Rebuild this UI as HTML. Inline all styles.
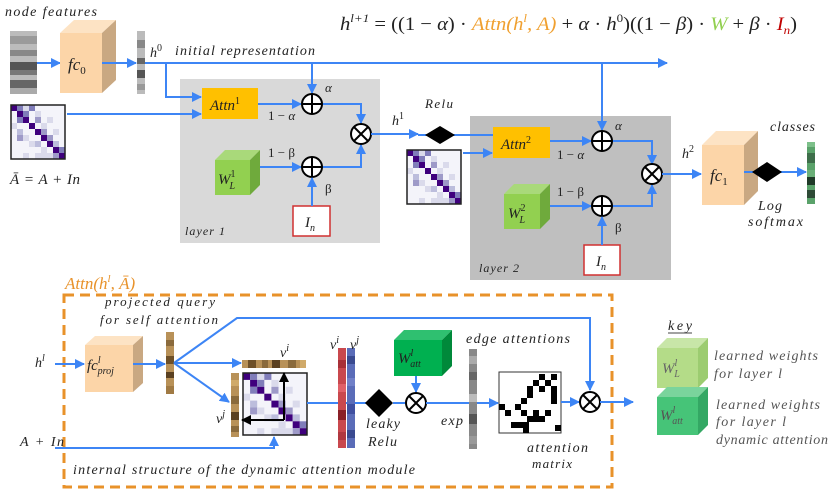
<!DOCTYPE html>
<html><head><meta charset="utf-8"><style>
html,body{margin:0;padding:0;background:#fff;}
svg{display:block;}
text{font-family:"Liberation Serif",serif;font-style:italic;fill:#222;}
.u{font-style:normal;}
</style></head><body>
<svg width="831" height="490" viewBox="0 0 831 490" xmlns="http://www.w3.org/2000/svg">
<defs>
<marker id="a" markerWidth="10" markerHeight="10" refX="9" refY="5" orient="auto" markerUnits="userSpaceOnUse"><path d="M0,0 L10,5 L0,10 z" fill="#3d85f5"/></marker>
<marker id="k" markerWidth="10" markerHeight="10" refX="9" refY="5" orient="auto" markerUnits="userSpaceOnUse"><path d="M0,0 L10,5 L0,10 z" fill="#000"/></marker>
<g id="adj">
<rect x="0" y="0" width="9" height="9" fill="#f4f4fa"/>
<rect x="0" y="0" width="1" height="1" fill="#3f007d"/><rect x="1" y="0" width="1" height="1" fill="#807dba"/><rect x="2" y="0" width="1" height="1" fill="#dadaeb"/><rect x="3" y="0" width="1" height="1" fill="#807dba"/>
<rect x="1" y="1" width="1" height="1" fill="#3f007d"/><rect x="2" y="1" width="1" height="1" fill="#807dba"/><rect x="4" y="1" width="1" height="1" fill="#dadaeb"/>
<rect x="1" y="2" width="1" height="1" fill="#807dba"/><rect x="2" y="2" width="1" height="1" fill="#3f007d"/><rect x="4" y="2" width="1" height="1" fill="#9e9ac8"/><rect x="6" y="2" width="1" height="1" fill="#dadaeb"/>
<rect x="0" y="3" width="1" height="1" fill="#dadaeb"/><rect x="3" y="3" width="1" height="1" fill="#3f007d"/><rect x="5" y="3" width="1" height="1" fill="#dadaeb"/>
<rect x="1" y="4" width="1" height="1" fill="#bcbddc"/><rect x="4" y="4" width="1" height="1" fill="#3f007d"/><rect x="5" y="4" width="1" height="1" fill="#9e9ac8"/><rect x="7" y="4" width="1" height="1" fill="#dadaeb"/>
<rect x="1" y="5" width="1" height="1" fill="#9e9ac8"/><rect x="2" y="5" width="1" height="1" fill="#dadaeb"/><rect x="5" y="5" width="1" height="1" fill="#3f007d"/><rect x="6" y="5" width="1" height="1" fill="#9e9ac8"/>
<rect x="3" y="6" width="1" height="1" fill="#dadaeb"/><rect x="4" y="6" width="1" height="1" fill="#bcbddc"/><rect x="6" y="6" width="1" height="1" fill="#3f007d"/><rect x="7" y="6" width="1" height="1" fill="#bcbddc"/>
<rect x="5" y="7" width="1" height="1" fill="#dadaeb"/><rect x="7" y="7" width="1" height="1" fill="#3f007d"/><rect x="8" y="7" width="1" height="1" fill="#807dba"/>
<rect x="2" y="8" width="1" height="1" fill="#dadaeb"/><rect x="4" y="8" width="3" height="1" fill="#dadaeb"/><rect x="7" y="8" width="1" height="1" fill="#9e9ac8"/><rect x="8" y="8" width="1" height="1" fill="#3f007d"/>
</g>
<g id="plus"><circle r="10" fill="#fff" stroke="#000" stroke-width="2"/><path d="M-10,0H10M0,-10V10" stroke="#000" stroke-width="2"/></g>
<g id="times"><circle r="10" fill="#fff" stroke="#000" stroke-width="2"/><path d="M-7,-7L7,7M-7,7L7,-7" stroke="#000" stroke-width="2"/></g>
</defs>

<!-- formula -->
<text x="340" y="30" font-size="19" textLength="457" lengthAdjust="spacingAndGlyphs">h<tspan font-size="12" dy="-8">l+1</tspan><tspan dy="8" class="u"> = ((1 − </tspan>α<tspan class="u">) · </tspan><tspan style="fill:#f0a030">Attn(h</tspan><tspan style="fill:#f0a030" font-size="12" dy="-8">l</tspan><tspan style="fill:#f0a030" dy="8">, A)</tspan><tspan class="u"> + </tspan>α<tspan class="u"> · </tspan>h<tspan font-size="12" dy="-8" class="u">0</tspan><tspan dy="8" class="u">)((1 − </tspan>β<tspan class="u">) · </tspan><tspan style="fill:#92d050">W</tspan><tspan class="u"> + </tspan>β<tspan class="u"> · </tspan><tspan style="fill:#c00000">I</tspan><tspan style="fill:#c00000" font-size="12" dy="4">n</tspan><tspan dy="-4" class="u">)</tspan></text>

<!-- node features -->
<text x="5" y="16" font-size="14" textLength="92">node features</text>
<g>
<rect x="10" y="31" width="27" height="63" fill="#bbb"/>
<rect x="10" y="36" width="27" height="8" fill="#9a9a9a"/><rect x="10" y="50" width="27" height="6" fill="#888"/>
<rect x="10" y="62" width="27" height="8" fill="#555"/><rect x="10" y="70" width="27" height="5" fill="#777"/>
<rect x="10" y="80" width="27" height="8" fill="#666"/><rect x="10" y="88" width="27" height="6" fill="#aaa"/>
</g>
<line x1="37" y1="63" x2="60" y2="63" stroke="#3d85f5" stroke-width="2" marker-end="url(#a)"/>
<polygon points="60,33 74,20 116,20 102,33" fill="#fde3c4"/>
<polygon points="102,33 116,20 116,80 102,93" fill="#c9a882"/>
<rect x="60" y="33" width="42" height="60" fill="#fcd5a8"/>
<text x="68" y="70" font-size="17">fc<tspan font-size="11" dy="4" class="u">0</tspan></text>
<line x1="102" y1="63" x2="136" y2="63" stroke="#3d85f5" stroke-width="2" marker-end="url(#a)"/>
<g>
<rect x="137" y="31" width="8" height="63" fill="#bbb"/>
<rect x="137" y="40" width="8" height="8" fill="#888"/><rect x="137" y="58" width="8" height="6" fill="#666"/><rect x="137" y="70" width="8" height="8" fill="#555"/><rect x="137" y="84" width="8" height="6" fill="#999"/>
</g>
<text x="150" y="57" font-size="14">h<tspan font-size="10" dy="-6" class="u">0</tspan></text>
<text x="175" y="55" font-size="14" textLength="140">initial representation</text>
<line x1="145" y1="63" x2="667" y2="63" stroke="#3d85f5" stroke-width="2" marker-end="url(#a)"/>

<use href="#adj" transform="translate(11,105) scale(6)"/>
<rect x="11" y="105" width="54" height="54" fill="none" stroke="#222" stroke-width="1.5"/>
<text x="10" y="184" font-size="15" textLength="70">Ā = A + In</text>

<!-- layer 1 -->
<rect x="180" y="79" width="200" height="164" fill="#d9d9d9"/>
<polyline points="166,63 166,97 201,97" fill="none" stroke="#3d85f5" stroke-width="2" marker-end="url(#a)"/>
<line x1="67" y1="114" x2="201" y2="114" stroke="#3d85f5" stroke-width="2" marker-end="url(#a)"/>
<rect x="202" y="88" width="56" height="31" fill="#ffc000"/>
<text x="210" y="110" font-size="15">Attn<tspan font-size="10" dy="-6" class="u">1</tspan></text>
<line x1="312" y1="63" x2="312" y2="93" stroke="#3d85f5" stroke-width="2" marker-end="url(#a)"/>
<line x1="258" y1="104" x2="301" y2="104" stroke="#3d85f5" stroke-width="2" marker-end="url(#a)"/>
<polyline points="322,104 361,104 361,123" fill="none" stroke="#3d85f5" stroke-width="2" marker-end="url(#a)"/>
<use href="#plus" x="312" y="104"/>
<text x="325" y="92" font-size="13">α</text>
<text x="268" y="120" font-size="13" class="u">1 − <tspan font-style="italic">α</tspan></text>
<polygon points="215,160 225,150 260,150 250,160" fill="#a9d97a"/>
<polygon points="250,160 260,150 260,185 250,195" fill="#6faa3c"/>
<rect x="215" y="160" width="35" height="35" fill="#92d050"/>
<text x="218" y="184" font-size="15">W<tspan font-size="10" dy="-7" class="u">1</tspan><tspan font-size="10" dx="-6" dy="12">L</tspan></text>
<line x1="260" y1="167" x2="301" y2="167" stroke="#3d85f5" stroke-width="2" marker-end="url(#a)"/>
<polyline points="322,167 361,167 361,145" fill="none" stroke="#3d85f5" stroke-width="2" marker-end="url(#a)"/>
<use href="#plus" x="312" y="167"/>
<text x="268" y="157" font-size="13" class="u">1 − β</text>
<text x="325" y="193" font-size="13" class="u">β</text>
<rect x="293" y="206" width="37" height="30" fill="#fff" stroke="#d03030" stroke-width="1.5"/>
<line x1="312" y1="206" x2="312" y2="178" stroke="#3d85f5" stroke-width="2" marker-end="url(#a)"/>
<text x="305" y="227" font-size="15">I<tspan font-size="10" dy="4">n</tspan></text>
<text x="185" y="235" font-size="12" textLength="40">layer 1</text>
<use href="#times" x="361" y="134"/>
<line x1="371" y1="134" x2="418" y2="134" stroke="#3d85f5" stroke-width="2" marker-end="url(#a)"/>
<text x="392" y="125" font-size="14">h<tspan font-size="10" dy="-6" class="u">1</tspan></text>

<!-- layer 2 -->
<text x="425" y="108" font-size="13" textLength="28">Relu</text>
<rect x="470" y="116" width="201" height="164" fill="#bfbfbf"/>
<line x1="418" y1="135" x2="493" y2="135" stroke="#3d85f5" stroke-width="2"/>
<polygon points="425,135 440,126 455,135 440,144" fill="#000"/>
<use href="#adj" transform="translate(407,150) scale(6)"/>
<rect x="407" y="150" width="54" height="54" fill="none" stroke="#222" stroke-width="1.5"/>
<line x1="463" y1="153" x2="492" y2="153" stroke="#3d85f5" stroke-width="2" marker-end="url(#a)"/>
<rect x="493" y="127" width="57" height="31" fill="#ffc000"/>
<text x="501" y="149" font-size="15">Attn<tspan font-size="10" dy="-6" class="u">2</tspan></text>
<line x1="602" y1="63" x2="602" y2="130" stroke="#3d85f5" stroke-width="2" marker-end="url(#a)"/>
<line x1="550" y1="141" x2="591" y2="141" stroke="#3d85f5" stroke-width="2" marker-end="url(#a)"/>
<polyline points="612,141 652,141 652,164" fill="none" stroke="#3d85f5" stroke-width="2" marker-end="url(#a)"/>
<use href="#plus" x="602" y="141"/>
<text x="615" y="130" font-size="13">α</text>
<text x="557" y="159" font-size="13" class="u">1 − <tspan font-style="italic">α</tspan></text>
<polygon points="504,194 514,184 550,184 540,194" fill="#a9d97a"/>
<polygon points="540,194 550,184 550,219 540,229" fill="#6faa3c"/>
<rect x="504" y="194" width="36" height="35" fill="#92d050"/>
<text x="508" y="218" font-size="15">W<tspan font-size="10" dy="-7" class="u">2</tspan><tspan font-size="10" dx="-6" dy="12">L</tspan></text>
<line x1="550" y1="206" x2="591" y2="206" stroke="#3d85f5" stroke-width="2" marker-end="url(#a)"/>
<polyline points="612,206 652,206 652,185" fill="none" stroke="#3d85f5" stroke-width="2" marker-end="url(#a)"/>
<use href="#plus" x="602" y="206"/>
<text x="557" y="196" font-size="13" class="u">1 − β</text>
<text x="615" y="232" font-size="13" class="u">β</text>
<rect x="584" y="245" width="36" height="30" fill="#fff" stroke="#d03030" stroke-width="1.5"/>
<line x1="602" y1="245" x2="602" y2="217" stroke="#3d85f5" stroke-width="2" marker-end="url(#a)"/>
<text x="596" y="266" font-size="15">I<tspan font-size="10" dy="4">n</tspan></text>
<text x="479" y="272" font-size="12" textLength="40">layer 2</text>
<use href="#times" x="652" y="174"/>
<line x1="662" y1="174" x2="701" y2="174" stroke="#3d85f5" stroke-width="2" marker-end="url(#a)"/>
<text x="682" y="158" font-size="14">h<tspan font-size="10" dy="-6" class="u">2</tspan></text>

<polygon points="702,145 716,131 758,131 744,145" fill="#fde3c4"/>
<polygon points="744,145 758,131 758,191 744,205" fill="#c9a882"/>
<rect x="702" y="145" width="42" height="60" fill="#fcd5a8"/>
<text x="710" y="181" font-size="17">fc<tspan font-size="11" dy="4" class="u">1</tspan></text>
<line x1="744" y1="172" x2="806" y2="172" stroke="#3d85f5" stroke-width="2" marker-end="url(#a)"/>
<polygon points="752,172 767,162 782,172 767,182" fill="#000"/>
<text x="770" y="131" font-size="14" textLength="45">classes</text>
<text x="758" y="210" font-size="14" textLength="24">Log</text>
<text x="748" y="226" font-size="14" textLength="55">softmax</text>
<g>
<rect x="807" y="142" width="8" height="62" fill="#5aa26a"/>
<rect x="807" y="142" width="8" height="5" fill="#7dc08a"/><rect x="807" y="153" width="8" height="10" fill="#3e6e4a"/>
<rect x="807" y="170" width="8" height="7" fill="#6aaf78"/><rect x="807" y="177" width="8" height="8" fill="#1f3a28"/><rect x="807" y="190" width="8" height="8" fill="#2e4a36"/>
</g>

<!-- bottom -->
<text x="65" y="289" font-size="17" style="fill:#e8922a">Attn(h<tspan font-size="11" dy="-7">l</tspan><tspan dy="7">, Ā)</tspan></text>
<rect x="64" y="295" width="548" height="192" fill="none" stroke="#e8922a" stroke-width="3" stroke-dasharray="10,6"/>
<text x="105" y="306" font-size="13" textLength="110">projected query</text>
<text x="100" y="324" font-size="13" textLength="118">for self attention</text>
<text x="35" y="367" font-size="14">h<tspan font-size="10" dy="-6">l</tspan></text>
<line x1="55" y1="364" x2="84" y2="364" stroke="#3d85f5" stroke-width="2" marker-end="url(#a)"/>
<polygon points="85,345 95,336 143,336 133,345" fill="#fde3c4"/>
<polygon points="133,345 143,336 143,383 133,392" fill="#c9a882"/>
<rect x="85" y="345" width="48" height="47" fill="#fcd5a8"/>
<text x="87" y="370" font-size="15">fc<tspan font-size="10" dy="-7">l</tspan><tspan font-size="10" dx="-3" dy="11">proj</tspan></text>
<line x1="133" y1="364" x2="165" y2="364" stroke="#3d85f5" stroke-width="2" marker-end="url(#a)"/>
<g>
<rect x="166" y="332" width="8" height="62" fill="#b89158"/>
<rect x="166" y="340" width="8" height="6" fill="#8a6a3c"/><rect x="166" y="356" width="8" height="8" fill="#6e5028"/><rect x="166" y="372" width="8" height="6" fill="#5a4020"/><rect x="166" y="386" width="8" height="8" fill="#a07a44"/>
</g>
<polyline points="174,363 237,318 590,318 590,390" fill="none" stroke="#3d85f5" stroke-width="2" marker-end="url(#a)"/>
<line x1="174" y1="363" x2="241" y2="363" stroke="#3d85f5" stroke-width="2" marker-end="url(#a)"/>
<line x1="174" y1="363" x2="229" y2="402" stroke="#3d85f5" stroke-width="2" marker-end="url(#a)"/>
<g>
<rect x="242" y="360" width="64" height="8" fill="#b89158"/>
<rect x="248" y="360" width="8" height="8" fill="#6e5028"/><rect x="262" y="360" width="6" height="8" fill="#8a6a3c"/><rect x="272" y="360" width="8" height="8" fill="#5a4020"/><rect x="288" y="360" width="8" height="8" fill="#8a6a3c"/><rect x="300" y="360" width="6" height="8" fill="#d0aa6a"/>
<rect x="231" y="373" width="8" height="64" fill="#b89158"/>
<rect x="231" y="380" width="8" height="6" fill="#d0aa6a"/><rect x="231" y="396" width="8" height="8" fill="#8a6a3c"/><rect x="231" y="412" width="8" height="8" fill="#5a4020"/><rect x="231" y="426" width="8" height="6" fill="#8a6a3c"/>
</g>
<use href="#adj" transform="translate(243,373) scale(7.1,6.9)"/>
<rect x="243" y="373" width="64" height="62" fill="none" stroke="#222" stroke-width="1.5"/>
<polyline points="284,420 284,373" fill="none" stroke="#000" stroke-width="2" marker-end="url(#k)"/>
<polyline points="284,420 242,420" fill="none" stroke="#000" stroke-width="2" marker-end="url(#k)"/>
<text x="280" y="357" font-size="14">v<tspan font-size="10" dy="-6">i</tspan></text>
<text x="216" y="423" font-size="14">v<tspan font-size="10" dy="-6">j</tspan></text>
<text x="20" y="446" font-size="14" textLength="44">A + In</text>
<polyline points="55,448 274,448 274,437" fill="none" stroke="#3d85f5" stroke-width="2" marker-end="url(#a)"/>
<line x1="307" y1="403" x2="366" y2="403" stroke="#3d85f5" stroke-width="2"/>
<g>
<rect x="338" y="348" width="8" height="100" fill="#c9484e"/>
<rect x="338" y="360" width="8" height="8" fill="#a83038"/><rect x="338" y="384" width="8" height="8" fill="#e06068"/><rect x="338" y="410" width="8" height="10" fill="#8a2028"/><rect x="338" y="432" width="8" height="8" fill="#b03840"/>
<rect x="347" y="348" width="8" height="100" fill="#5a6cb8"/>
<rect x="347" y="356" width="8" height="8" fill="#3a4a90"/><rect x="347" y="378" width="8" height="8" fill="#7080c8"/><rect x="347" y="404" width="8" height="10" fill="#4050a0"/><rect x="347" y="430" width="8" height="8" fill="#3a4a90"/>
</g>
<text x="330" y="349" font-size="14">v<tspan font-size="10" dy="-6">i</tspan></text>
<text x="350" y="349" font-size="14">v<tspan font-size="10" dy="-6">j</tspan></text>
<polygon points="365,403 379,389 393,403 379,417" fill="#000"/>
<line x1="393" y1="403" x2="405" y2="403" stroke="#3d85f5" stroke-width="2"/>
<text x="366" y="428" font-size="14" textLength="34">leaky</text>
<text x="368" y="446" font-size="14" textLength="29">Relu</text>
<polygon points="394,340 404,330 452,330 442,340" fill="#2fc070"/>
<polygon points="442,340 452,330 452,366 442,376" fill="#00893a"/>
<rect x="394" y="340" width="48" height="36" fill="#00b050"/>
<text x="398" y="363" font-size="15">W<tspan font-size="10" dy="-7">l</tspan><tspan font-size="10" dx="-3" dy="11">att</tspan></text>
<line x1="416" y1="376" x2="416" y2="392" stroke="#3d85f5" stroke-width="2" marker-end="url(#a)"/>
<use href="#times" x="416" y="403"/>
<line x1="426" y1="403" x2="498" y2="403" stroke="#3d85f5" stroke-width="2" marker-end="url(#a)"/>
<text x="441" y="425" font-size="14" textLength="22">exp</text>
<g>
<rect x="469" y="349" width="8" height="100" fill="#888"/>
<rect x="469" y="356" width="8" height="8" fill="#aaa"/><rect x="469" y="372" width="8" height="8" fill="#666"/><rect x="469" y="394" width="8" height="8" fill="#bbb"/><rect x="469" y="414" width="8" height="10" fill="#555"/><rect x="469" y="436" width="8" height="8" fill="#999"/>
</g>
<text x="466" y="343" font-size="14" textLength="104">edge attentions</text>
<rect x="499" y="372" width="62" height="61" fill="#fff" stroke="#333" stroke-width="1"/>
<g fill="#000">
<rect x="539" y="374" width="6" height="6"/><rect x="551" y="374" width="6" height="6"/>
<rect x="533" y="380" width="6" height="6"/><rect x="545" y="380" width="6" height="6"/>
<rect x="527" y="386" width="6" height="12"/><rect x="539" y="386" width="6" height="6"/><rect x="551" y="386" width="6" height="18"/>
<rect x="521" y="398" width="6" height="6"/>
<rect x="499" y="404" width="6" height="6"/><rect x="515" y="404" width="6" height="6"/>
<rect x="505" y="410" width="6" height="6"/><rect x="521" y="410" width="6" height="6"/><rect x="533" y="410" width="6" height="6"/><rect x="545" y="410" width="6" height="6"/>
<rect x="527" y="416" width="18" height="6"/>
<rect x="511" y="422" width="12" height="6"/><rect x="523" y="422" width="6" height="11"/><rect x="555" y="425" width="6" height="6"/>
</g>
<line x1="561" y1="402" x2="579" y2="402" stroke="#3d85f5" stroke-width="2" marker-end="url(#a)"/>
<use href="#times" x="590" y="402"/>
<line x1="600" y1="402" x2="633" y2="402" stroke="#3d85f5" stroke-width="2" marker-end="url(#a)"/>
<text x="527" y="452" font-size="14" textLength="61">attention</text>
<text x="532" y="468" font-size="13" textLength="40">matrix</text>
<text x="73" y="474" font-size="14" textLength="342">internal structure of the dynamic attention module</text>

<!-- key -->
<text x="668" y="330" font-size="14" textLength="24">key</text>
<line x1="668" y1="333" x2="692" y2="333" stroke="#444" stroke-width="1"/>
<polygon points="657,348 667,338 708,338 698,348" fill="#c8e6a8"/>
<polygon points="698,348 708,338 708,378 698,388" fill="#9ccc70"/>
<rect x="657" y="348" width="41" height="40" fill="#b4dc88"/>
<text x="662" y="373" font-size="15" style="fill:#666">W<tspan font-size="10" dy="-7">l</tspan><tspan font-size="10" dx="-3" dy="11">L</tspan></text>
<text x="714" y="360" font-size="14" style="fill:#555" textLength="104">learned weights</text>
<text x="714" y="378" font-size="14" style="fill:#555" textLength="68">for layer l</text>
<polygon points="657,397 667,387 708,387 698,397" fill="#7ad49c"/>
<polygon points="698,397 708,387 708,425 698,435" fill="#34a864"/>
<rect x="657" y="397" width="41" height="38" fill="#46c478"/>
<text x="660" y="420" font-size="15" style="fill:#555">W<tspan font-size="10" dy="-7">l</tspan><tspan font-size="10" dx="-3" dy="11">att</tspan></text>
<text x="716" y="409" font-size="14" style="fill:#555" textLength="104">learned weights</text>
<text x="716" y="426" font-size="14" style="fill:#555" textLength="70">for layer l</text>
<text x="716" y="444" font-size="14" style="fill:#555" textLength="112">dynamic attention</text>
</svg>
</body></html>
